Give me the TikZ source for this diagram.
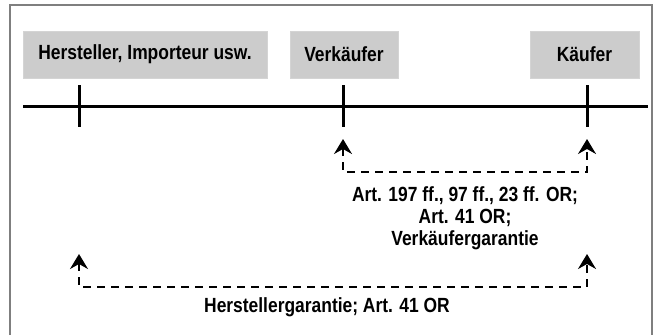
\documentclass[tikz,border=0pt]{standalone}
\usepackage{fontspec}
\setmainfont[FakeStretch=0.85]{Liberation Sans}
\usetikzlibrary{arrows.meta}
\definecolor{boxgray}{HTML}{CCCCCC}
\definecolor{framegray}{HTML}{7F7F7F}
\tikzset{
  party/.style={fill=boxgray, draw=boxgray!85!white, line width=0.8pt, minimum height=47pt,
    inner sep=0pt, font=\fontsize{20.5}{22}\selectfont\bfseries},
  timeline/.style={line width=3pt},
  tick/.style={line width=3pt},
  claimtip/.tip={Stealth[length=15pt,width=18pt,inset=5pt]},
  claim/.style={line width=2pt, dash pattern=on 8pt off 6pt, {claimtip}-{claimtip}},
  claimlabel/.style={font=\fontsize{20.5}{22}\selectfont\bfseries, align=center, inner sep=0pt}
}
\begin{document}
\begin{tikzpicture}[x=1pt,y=-1pt]
\useasboundingbox (0,0) rectangle (658,335);
% open frame
\draw[framegray, line width=1.5pt] (10,335) -- (10,5) -- (652,5) -- (652,335);
% parties
\node[party, minimum width=244pt] (herst) at (145,54.5) {Hersteller, Importeur usw.};
\node[party, minimum width=108pt] (verk) at (344,54.5) {Verkäufer};
\node[party, minimum width=109pt] (kauf) at (584.5,54.5) {Käufer};
% chain line
\coordinate (l0) at (23,106);
\coordinate (l1) at (648,106);
\draw[timeline] (l0) -- (l1);
% ticks
\coordinate (th0) at (79,85);  \coordinate (th1) at (79,127);
\coordinate (tv0) at (343,85); \coordinate (tv1) at (343,127);
\coordinate (tk0) at (587,85); \coordinate (tk1) at (587,127);
\draw[tick] (th0) -- (th1);
\draw[tick] (tv0) -- (tv1);
\draw[tick] (tk0) -- (tk1);
% seller - buyer claims
\coordinate (a1) at (343,139);
\coordinate (a2) at (587,139);
\draw[claim] (a1) -- (343,172) -- (587,172) -- (a2);
\node[claimlabel] (lab1) at (465,218) {Art. 197 ff., 97 ff., 23 ff. OR;\\Art. 41 OR;\\Verkäufergarantie};
% manufacturer - buyer claims
\coordinate (b1) at (79,254);
\coordinate (b2) at (587,254);
\draw[claim] (b1) -- (79,287) -- (587,287) -- (b2);
\node[claimlabel] (lab2) at (327,307) {Herstellergarantie; Art. 41 OR};
\end{tikzpicture}
\end{document}
